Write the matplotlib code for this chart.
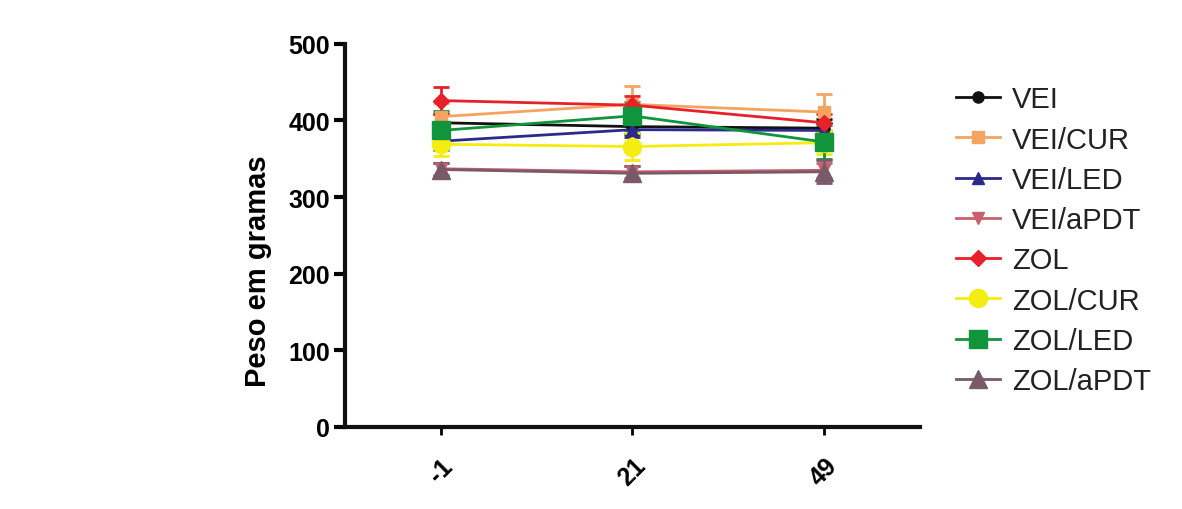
import numpy as np
import matplotlib.pyplot as plt
from matplotlib.lines import Line2D

# --- data ---
DAYS = ["-1", "21", "49"]
GROUPS = ["VEI", "VEI/CUR", "VEI/LED", "VEI/aPDT", "ZOL", "ZOL/CUR", "ZOL/LED", "ZOL/aPDT"]

vei = [397, 392, 390]
vei_cur = [405, 421, 411]
vei_led = [373, 388, 387]
vei_apdt = [337, 333, 335]
zol = [426, 420, 397]
zol_cur = [369, 366, 371]
zol_led = [387, 406, 372]
zol_apdt = [336, 331, 333]

vei_err = [12, 10, 12]
vei_cur_err = [18, 24, 24]
vei_led_err = [10, 10, 10]
vei_apdt_err = [8, 8, 10]
zol_err = [18, 12, 12]
zol_cur_err = [15, 18, 15]
zol_led_err = [26, 18, 22]
zol_apdt_err = [9, 10, 15]

# --- styles ---
STYLES = {
    "VEI": dict(color="#111111", marker="o", ms=8),
    "VEI/CUR": dict(color="#F4A460", marker="s", ms=8),
    "VEI/LED": dict(color="#2B2A8C", marker="^", ms=8),
    "VEI/aPDT": dict(color="#C8606E", marker="v", ms=8),
    "ZOL": dict(color="#E8202A", marker="D", ms=8),
    "ZOL/CUR": dict(color="#F5EC10", marker="o", ms=13),
    "ZOL/LED": dict(color="#10943C", marker="s", ms=13),
    "ZOL/aPDT": dict(color="#7A5A68", marker="^", ms=13),
}

series = [vei, vei_cur, vei_led, vei_apdt, zol, zol_cur, zol_led, zol_apdt]
errors = [vei_err, vei_cur_err, vei_led_err, vei_apdt_err,
          zol_err, zol_cur_err, zol_led_err, zol_apdt_err]

plt.rcParams.update({
    "font.family": "sans-serif",
    "font.sans-serif": ["Liberation Sans", "Arial", "DejaVu Sans"],
})

fig = plt.figure(figsize=(11.82, 5.1), dpi=100)
ax = fig.add_axes([0.292, 0.161, 0.486, 0.751])

x = np.arange(len(DAYS))
handles = []
for name, y, e in zip(GROUPS, series, errors):
    st = STYLES[name]
    ax.errorbar(x, y, yerr=e, color=st["color"], marker=st["marker"],
                markersize=st["ms"], lw=2, elinewidth=2, capsize=6,
                capthick=2)
    handles.append(Line2D([], [], color=st["color"], marker=st["marker"],
                          markersize=st["ms"], lw=2))

ax.set_xlim(-0.5, 2.5)
ax.set_ylim(0, 500)
ax.set_yticks([0, 100, 200, 300, 400, 500])
ax.set_xticks(x)
ax.set_xticklabels(DAYS, rotation=45, ha="center", va="top", fontweight="bold",
                   fontsize=18)
for lbl in ax.get_yticklabels():
    lbl.set_fontweight("bold")
    lbl.set_fontsize(18)
ax.set_ylabel("Peso em gramas", fontsize=21, fontweight="bold")
ax.yaxis.set_label_coords(-0.128, 0.41)

for s in ("top", "right"):
    ax.spines[s].set_visible(False)
for s in ("left", "bottom"):
    ax.spines[s].set_linewidth(3)
    ax.spines[s].set_color("#111111")
ax.tick_params(axis="y", width=3, length=8, direction="out", pad=3)
ax.tick_params(axis="x", width=2, length=6, direction="out", pad=13)

fig.legend(handles, GROUPS, loc="center left", bbox_to_anchor=(0.787, 0.527),
           frameon=False, fontsize=21, handlelength=1.5, labelspacing=0.42,
           handletextpad=0.4, labelcolor="#222222")

fig.savefig("out.png", dpi=100)
